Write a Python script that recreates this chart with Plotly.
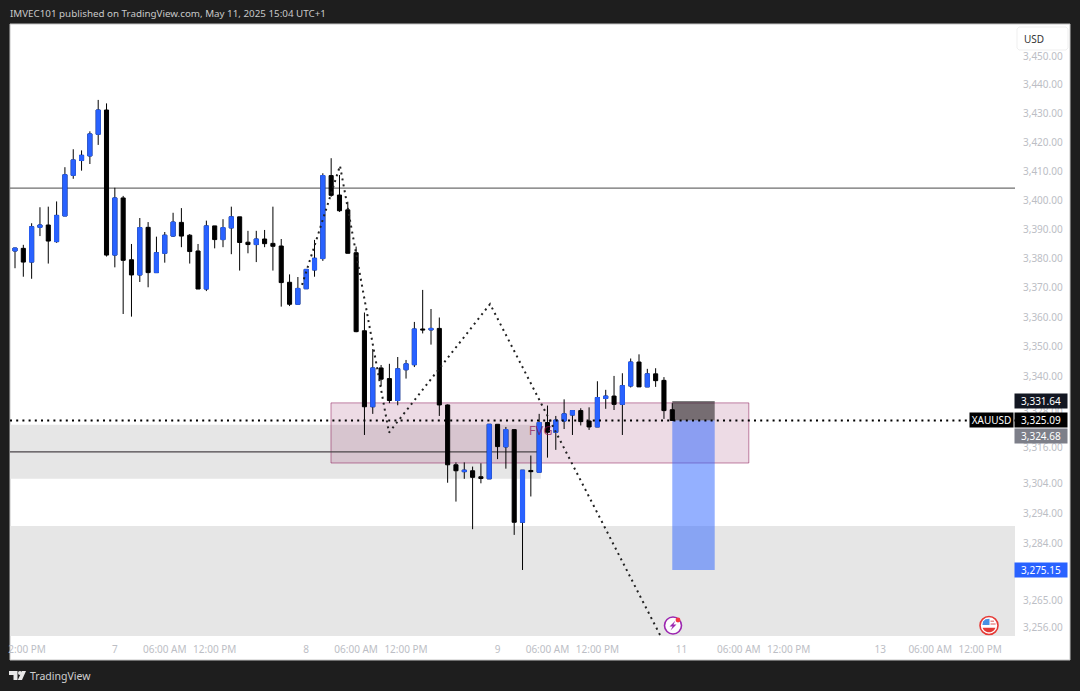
import math
import plotly.graph_objects as go

# ---- data ----
bar_index = list(range(-1, 80))
opens = [3376.7,3382.6,3383.5,3378.8,3390.7,3391.5,3385.8,3394.6,3408.6,3413.7,3415.3,3422.8,3431.2,3381.2,3400.8,3379.6,3374.4,3390.7,3375.2,3381.8,3387.7,3392.4,3388.0,3382.6,3369.6,3391.2,3386.5,3390.5,3394.3,3385.6,3384.8,3386.7,3385.2,3384.3,3371.9,3364.4,3369.7,3376.1,3380.0,3408.5,3401.8,3396.7,3382.0,3355.4,3329.7,3342.8,3339.2,3331.8,3342.2,3343.9,3356.0,3355.7,3356.2,3330.3,3310.2,3307.9,3308.2,3306.2,3305.5,3323.8,3316.2,3322.0,3291.0,3308.3,3307.7,3324.4,3321.1,3324.9,3326.9,3328.4,3324.9,3322.9,3332.5,3333.3,3330.5,3336.7,3344.8,3336.4,3340.8,3338.6,3328.7]
highs = [3383.5,3383.7,3384.7,3392.1,3397.6,3397.8,3399.6,3411.4,3417.6,3417.2,3423.8,3434.7,3433.5,3404.3,3401.5,3385.0,3393.9,3392.5,3387.5,3389.1,3395.7,3397.3,3388.4,3385.0,3393.0,3391.2,3393.5,3397.8,3394.3,3389.5,3389.5,3389.8,3397.8,3386.7,3374.6,3373.7,3376.3,3386.4,3409.3,3414.5,3408.7,3399.5,3384.1,3361.6,3349.2,3343.8,3344.2,3346.5,3345.5,3358.4,3369.3,3362.8,3359.9,3330.5,3311.0,3311.0,3309.6,3310.7,3323.8,3323.8,3322.9,3322.0,3308.4,3313.3,3327.3,3330.1,3326.6,3332.2,3328.4,3329.2,3329.5,3338.3,3335.4,3340.1,3341.0,3346.0,3347.4,3342.5,3342.7,3339.7,3330.9]
lows = [3376.2,3376.7,3373.8,3373.1,3387.7,3378.3,3385.4,3394.6,3407.4,3410.2,3412.5,3419.1,3380.7,3377.0,3361.1,3360.2,3372.0,3370.2,3375.2,3378.6,3387.4,3383.9,3378.3,3369.6,3368.9,3383.5,3383.9,3381.5,3375.9,3381.8,3378.8,3383.9,3375.9,3363.6,3363.8,3364.4,3369.7,3373.8,3379.2,3401.2,3396.0,3381.8,3354.9,3320.2,3327.3,3336.7,3330.9,3330.2,3339.2,3343.1,3354.5,3350.7,3326.6,3304.2,3297.9,3305.5,3288.7,3304.0,3305.5,3312.1,3308.9,3286.8,3275.15,3299.6,3307.7,3312.6,3315.2,3322.2,3320.2,3323.4,3321.9,3322.9,3329.0,3328.6,3320.2,3336.2,3336.4,3336.4,3336.4,3325.6,3325.09]
closes = [3382.9,3383.6,3378.8,3390.9,3391.5,3386.0,3394.8,3408.8,3413.9,3415.5,3422.9,3431.2,3381.2,3400.8,3379.4,3374.4,3390.6,3375.2,3382.0,3388.0,3392.5,3387.7,3382.4,3369.6,3391.2,3386.5,3390.6,3394.3,3385.5,3384.8,3386.7,3385.1,3384.2,3371.8,3364.4,3369.8,3376.3,3380.1,3408.5,3401.7,3396.4,3381.8,3355.1,3329.7,3342.8,3339.0,3331.8,3342.5,3344.2,3356.0,3355.7,3356.2,3330.3,3310.2,3308.2,3308.4,3306.0,3305.6,3323.8,3316.3,3322.0,3291.0,3308.4,3307.9,3324.4,3321.1,3325.2,3327.3,3328.4,3324.7,3322.9,3332.8,3333.3,3330.5,3336.8,3344.8,3336.4,3340.8,3338.5,3328.4,3325.09]

zigzag_bars = [34.5, 39.06, 44.95, 57.1, 77.6]
zigzag_prices = [3371.0, 3411.9, 3321.0, 3364.5, 3253.3]

price_ticks = [3450,3440,3430,3420,3410,3400,3390,3380,3370,3360,3350,3340,3328,3316,3304,3294,3284,3265,3256]
time_tick_bars = [1.45,12,18,24,35,41,47,58,64,70,80.1,87,93,104,110,116]
time_tick_text = ["2:00 PM","7","06:00 AM","12:00 PM","8","06:00 AM","12:00 PM","9","06:00 AM","12:00 PM","11","06:00 AM","12:00 PM","13","06:00 AM","12:00 PM"]

last_price = 3325.09
target_price = 3275.15
stop_price = 3331.64
mid_price = 3324.68
level_upper = 3404.2
level_lower = 3314.5
zone_a = (3323.6, 3305.5)
zone_b = (3289.8, 3253.3)
fvg = (3331.0, 3310.8)

# ---- layout constants ----
W, H = 1080, 691
L, R, T, B = 10, 1015, 24, 636
BG = "#1e1e1e"
TICK = "#bcbec5"
FONT = "Noto Sans, Open Sans, sans-serif"
XMIN, XMAX = (10-15)/8.32, (1015-15)/8.32
Y_TOP = math.log10(3450) + 32/22755
Y_BOT = math.log10(3450) - 580/22755

def px(x): return (x-L)/(R-L)
def py(y): return (B-y)/(B-T)
def paper_path(pts):
    return "M" + " L".join(f"{px(x):.5f},{py(y):.5f}" for x, y in pts) + " Z"
def circle(cx, cy, r, **kw):
    return dict(type="circle", xref="paper", yref="paper", x0=px(cx-r), x1=px(cx+r), y0=py(cy+r), y1=py(cy-r), **kw)
def arc_path(cx, cy, r, a0, a1, n=24):
    pts = []
    for k in range(n+1):
        a = math.radians(a0+(a1-a0)*k/n)
        pts.append((cx+r*math.cos(a), cy-r*math.sin(a)))
    return paper_path(pts)

# ---- marks ----
fig = go.Figure()
fig.add_trace(go.Scatter(x=[63.2], y=[3321.3], mode="text", text=["FVG"], showlegend=False, hoverinfo="skip",
                         textfont=dict(family=FONT, size=13, color="rgba(136,14,79,0.7)")))
fig.add_trace(go.Candlestick(x=bar_index, open=opens, high=highs, low=lows, close=closes,
    increasing=dict(line=dict(color="#000000", width=1), fillcolor="#000000"),
    decreasing=dict(line=dict(color="#000000", width=1), fillcolor="#000000"),
    whiskerwidth=0, showlegend=False, hoverinfo="skip"))
up = [k for k in range(len(opens)) if closes[k] >= opens[k]]
fig.add_trace(go.Candlestick(x=[bar_index[k] for k in up], open=[opens[k] for k in up],
    high=[closes[k] for k in up], low=[opens[k] for k in up], close=[closes[k] for k in up],
    increasing=dict(line=dict(color="#2962ff", width=1), fillcolor="#2962ff"),
    whiskerwidth=0, showlegend=False, hoverinfo="skip"))
fig.add_trace(go.Scatter(x=zigzag_bars, y=zigzag_prices, mode="lines", showlegend=False, hoverinfo="skip",
                         line=dict(color="#222222", width=2, dash="2px,4px")))
fig.add_trace(go.Scatter(x=[XMIN, XMAX], y=[last_price, last_price], mode="lines", showlegend=False, hoverinfo="skip",
                         line=dict(color="#000000", width=2, dash="2px,4.2px")))

shapes = [
    dict(type="rect", xref="paper", yref="paper", x0=0, x1=px(1070), y0=py(660), y1=1, layer="below",
         fillcolor="#ffffff", line=dict(color="#c4c4c4", width=1)),
    dict(type="rect", xref="x", yref="y", x0=XMIN, x1=63.2, y0=zone_a[1], y1=zone_a[0], layer="below",
         fillcolor="#e6e6e6", line=dict(width=0)),
    dict(type="rect", xref="x", yref="y", x0=XMIN, x1=XMAX, y0=zone_b[1], y1=zone_b[0], layer="below",
         fillcolor="#e6e6e6", line=dict(width=0)),
    dict(type="rect", xref="x", yref="y", x0=37.98, x1=88.2, y0=fvg[1], y1=fvg[0], layer="below",
         fillcolor="rgba(136,14,79,0.15)", line=dict(color="rgba(136,14,79,0.5)", width=1)),
    dict(type="line", xref="x", yref="y", x0=XMIN, x1=XMAX, y0=level_upper, y1=level_upper, layer="below",
         line=dict(color="#6e6e6e", width=1.3)),
    dict(type="line", xref="x", yref="y", x0=XMIN, x1=63.2, y0=level_lower, y1=level_lower, layer="below",
         line=dict(color="#4a4548", width=1.3)),
    dict(type="rect", xref="x", yref="y", x0=79.0, x1=84.1, y0=last_price, y1=stop_price, layer="below",
         fillcolor="rgba(0,0,0,0.5)", line=dict(width=0)),
    dict(type="rect", xref="x", yref="y", x0=79.0, x1=84.1, y0=target_price, y1=last_price, layer="below",
         fillcolor="rgba(41,98,255,0.5)", line=dict(width=0)),
    # USD button
    dict(type="path", xref="paper", yref="paper", fillcolor="#ffffff", line=dict(color="#efefef", width=1),
         path=paper_path([(1019,27),(1066,27),(1068,29),(1068,48),(1066,50),(1019,50),(1017,48),(1017,29)])),
    # lightning event icon
    circle(673, 625.5, 8.5, fillcolor="rgba(255,255,255,0.9)", line=dict(color="#9c27b0", width=1.6)),
    dict(type="path", xref="paper", yref="paper", layer="above", fillcolor="#9c27b0", line=dict(width=0),
         path=paper_path([(675.5,620.5),(669.5,626.5),(672.6,626.5),(670.5,630.5),(676.5,624.5),(673.4,624.5)])),
    circle(678, 620, 2.4, fillcolor="#f23645", line=dict(width=0)),
    # US flag event icon
    circle(989, 625.5, 9, fillcolor="#ffffff", line=dict(color="#e53935", width=1.6)),
    dict(type="path", xref="paper", yref="paper", fillcolor="#e53935", line=dict(width=0), path=arc_path(989,625.5,6.8,200,340)),
    dict(type="path", xref="paper", yref="paper", fillcolor="#4a90e2", line=dict(width=0),
         path=paper_path([(982.4,625),(983,621.5),(985.5,619.3),(989.5,618.7),(989.5,625)])),
    dict(type="path", xref="paper", yref="paper", fillcolor="#e57373", line=dict(width=0),
         path=paper_path([(990.5,620.6),(994,620.6),(994,621.8),(990.5,621.8)])),
    dict(type="path", xref="paper", yref="paper", fillcolor="#e57373", line=dict(width=0),
         path=paper_path([(990.5,623.4),(995.6,623.4),(995.6,624.6),(990.5,624.6)])),
    # TradingView logo
    dict(type="path", xref="paper", yref="paper", fillcolor="#e8e8e8", line=dict(width=0),
         path=paper_path([(9,671),(17.5,671),(17.5,680),(13.5,680),(13.5,675),(9,675)])),
    circle(20, 673, 2.0, fillcolor="#e8e8e8", line=dict(width=0)),
    dict(type="path", xref="paper", yref="paper", fillcolor="#e8e8e8", line=dict(width=0),
         path=paper_path([(22,671),(26,671),(22,680),(17.8,680)])),
]

annotations = [
    dict(xref="paper", yref="paper", x=px(8), y=py(13), xanchor="left", yanchor="middle", showarrow=False,
         text="IMVEC101 published on TradingView.com, May 11, 2025 15:04 UTC+1",
         font=dict(family=FONT, size=9.8, color="#c8c8c8")),
    dict(xref="paper", yref="paper", x=px(28), y=py(676), xanchor="left", yanchor="middle", showarrow=False,
         text="TradingView", font=dict(family=FONT, size=10.5, color="#d0d0d0")),
    dict(xref="paper", yref="paper", x=px(1034), y=py(38.5), xanchor="center", yanchor="middle", showarrow=False,
         text="USD", font=dict(family=FONT, size=10, color="#333333")),
]
def price_label(value, color, text, yshift=0, text_color="#ffffff", x=1041, w=52):
    annotations.append(dict(xref="paper", yref="y", x=px(x), y=math.log10(value), xanchor="center", yanchor="middle",
        showarrow=False, text=text, width=w, height=14, bgcolor=color, yshift=yshift, borderpad=0,
        font=dict(family=FONT, size=10, color=text_color)))
price_label(stop_price, "#131722", f"{stop_price:,.2f}")
price_label(mid_price, "#7d7f89", f"{mid_price:,.2f}", yshift=-14.5)
price_label(last_price, "#000000", f"{last_price:,.2f}")
price_label(target_price, "#2962ff", f"{target_price:,.2f}")
price_label(last_price, "#000000", "XAUUSD", x=991.5, w=43)

fig.update_layout(
    width=W, height=H, margin=dict(l=L, r=W-R, t=T, b=H-B, autoexpand=False),
    paper_bgcolor=BG, plot_bgcolor="rgba(0,0,0,0)", showlegend=False, hovermode=False,
    shapes=shapes, annotations=annotations, font=dict(family=FONT),
    xaxis=dict(range=[XMIN, XMAX], showgrid=False, zeroline=False, showline=False, rangeslider=dict(visible=False),
               tickmode="array", tickvals=time_tick_bars, ticktext=time_tick_text, ticks="outside", ticklen=4,
               tickcolor="rgba(0,0,0,0)", tickfont=dict(family=FONT, size=10, color=TICK), tickangle=0),
    yaxis=dict(type="log", range=[Y_BOT, Y_TOP], side="right", showgrid=False, zeroline=False, showline=False,
               tickmode="array", tickvals=price_ticks, ticktext=[f"{v:,.2f}" for v in price_ticks],
               ticks="outside", ticklen=5, tickcolor="rgba(0,0,0,0)",
               tickfont=dict(family=FONT, size=10, color=TICK)),
)
fig.write_html("out.html", config=dict(displayModeBar=False),
               post_script="document.body.style.margin='0';document.body.style.background='#1e1e1e';")
